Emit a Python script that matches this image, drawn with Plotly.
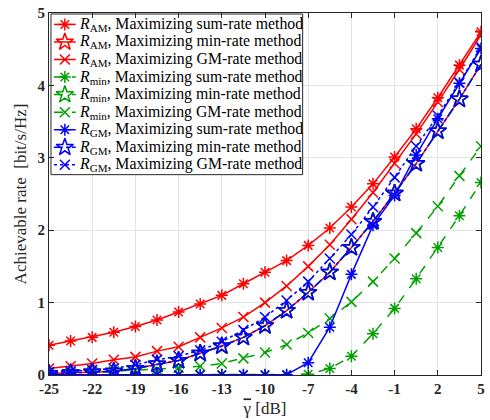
import plotly.graph_objects as go

snr_db = [-25, -23.5, -22, -20.5, -19, -17.5, -16, -14.5, -13, -11.5, -10, -8.5, -7,
          -5.5, -4, -2.5, -1, 0.5, 2, 3.5, 5]

ram_sum = [0.41, 0.47, 0.52, 0.59, 0.67, 0.76, 0.87, 0.98, 1.10, 1.26, 1.42, 1.58, 1.79,
           2.03, 2.32, 2.64, 3.01, 3.40, 3.83, 4.28, 4.74]
ram_gm = [0.09, 0.12, 0.16, 0.21, 0.25, 0.33, 0.39, 0.52, 0.65, 0.80, 1.00, 1.23, 1.50,
          1.80, 2.15, 2.52, 2.92, 3.33, 3.77, 4.22, 4.70]
r_minrate = [0.02, 0.03, 0.04, 0.05, 0.09, 0.15, 0.20, 0.30, 0.40, 0.52, 0.68, 0.89, 1.14,
             1.42, 1.76, 2.12, 2.51, 2.92, 3.37, 3.81, 4.29]
rmin_sum = [0.0, 0.0, 0.0, 0.0, 0.0, 0.0, 0.0, 0.0, 0.0, 0.0, 0.0, 0.0, 0.01,
            0.09, 0.26, 0.57, 0.92, 1.33, 1.76, 2.20, 2.66]
rmin_gm = [0.02, 0.03, 0.04, 0.05, 0.06, 0.08, 0.10, 0.12, 0.16, 0.23, 0.31, 0.42, 0.58,
           0.78, 1.01, 1.29, 1.61, 1.96, 2.33, 2.75, 3.16]
rgm_sum = [0.005, 0.005, 0.005, 0.005, 0.005, 0.005, 0.005, 0.005, 0.005, 0.005, 0.005, 0.005, 0.17,
           0.66, 1.39, 2.07, 2.48, 3.04, 3.54, 4.03, 4.51]
rgm_gm = [0.04, 0.05, 0.07, 0.09, 0.14, 0.21, 0.26, 0.34, 0.46, 0.62, 0.80, 1.03, 1.29,
          1.61, 1.94, 2.32, 2.73, 3.16, 3.58, 4.04, 4.53]

x_ticks = [-25, -22, -19, -16, -13, -10, -7, -4, -1, 2, 5]
y_ticks = [0, 1, 2, 3, 4, 5]

RED = "#ff0000"
GREEN = "#00a000"
BLUE = "#0000ff"

series = [
    ("<i>R</i><sub>AM</sub>, Maximizing sum-rate method", ram_sum, RED, "solid", "asterisk-open"),
    ("<i>R</i><sub>AM</sub>, Maximizing min-rate method", r_minrate, RED, "solid", "star-open"),
    ("<i>R</i><sub>AM</sub>, Maximizing GM-rate method", ram_gm, RED, "solid", "x-thin-open"),
    ("<i>R</i><sub>min</sub>, Maximizing sum-rate method", rmin_sum, GREEN, "dash", "asterisk-open"),
    ("<i>R</i><sub>min</sub>, Maximizing min-rate method", r_minrate, GREEN, "dash", "star-open"),
    ("<i>R</i><sub>min</sub>, Maximizing GM-rate method", rmin_gm, GREEN, "dash", "x-thin-open"),
    ("<i>R</i><sub>GM</sub>, Maximizing sum-rate method", rgm_sum, BLUE, "solid", "asterisk-open"),
    ("<i>R</i><sub>GM</sub>, Maximizing min-rate method", r_minrate, BLUE, "dashdot", "star-open"),
    ("<i>R</i><sub>GM</sub>, Maximizing GM-rate method", rgm_gm, BLUE, "dot", "x-thin-open"),
]

FONT = "Liberation Serif"

def msize(sym):
    return 13 if sym == "star-open" else 10

fig = go.Figure()
for name, ys, col, dash, sym in series:
    fig.add_trace(go.Scatter(
        x=snr_db, y=ys, name=name, mode="lines+markers", showlegend=False,
        line=dict(color=col, width=1.5, dash=dash),
        marker=dict(symbol=sym, size=msize(sym), color=col, line=dict(color=col, width=1.5)),
    ))

# Hand-built legend (MATLAB-style compact box) on an overlay axis in pixel units
L_X0, L_X1, L_Y0, L_Y1 = 51, 305, 11, 173
ROW0, ROW_STEP = 21.5, 17.7
SAMPLE_X = [54, 76]
TEXT_X = 77

fig.add_trace(go.Scatter(
    x=[L_X0, L_X1, L_X1, L_X0, L_X0], y=[L_Y0, L_Y0, L_Y1, L_Y1, L_Y0],
    xaxis="x2", yaxis="y2", mode="lines", fill="toself", fillcolor="white",
    line=dict(color="#262626", width=1), showlegend=False, hoverinfo="skip"))

for i, (name, ys, col, dash, sym) in enumerate(series):
    yy = ROW0 + i * ROW_STEP
    fig.add_trace(go.Scatter(
        x=SAMPLE_X, y=[yy, yy], xaxis="x2", yaxis="y2", mode="lines",
        line=dict(color=col, width=1.5, dash=dash), showlegend=False, hoverinfo="skip"))
    fig.add_trace(go.Scatter(
        x=[sum(SAMPLE_X) / 2], y=[yy], xaxis="x2", yaxis="y2", mode="markers",
        marker=dict(symbol=sym, size=msize(sym), color=col, line=dict(color=col, width=1.5)),
        showlegend=False, hoverinfo="skip"))
    fig.add_annotation(x=TEXT_X, y=yy, xref="x2", yref="y2", text=name, showarrow=False,
                       xanchor="left", yanchor="middle",
                       font=dict(family=FONT, size=15.8, color="#000000"))

fig.update_layout(
    width=490, height=420,
    margin=dict(l=49, r=5, t=10, b=45),
    paper_bgcolor="white", plot_bgcolor="white",
    font=dict(family=FONT, color="#262626"),
    showlegend=False,
    xaxis=dict(
        range=[-25, 5], tickvals=x_ticks, ticktext=[f"<b>{v}</b>" for v in x_ticks],
        tickfont=dict(family=FONT, size=15, color="#262626"),
        showgrid=True, gridcolor="#e3e3e3", gridwidth=1,
        zeroline=False, showline=True, linecolor="#262626", linewidth=1,
        mirror="ticks", ticks="inside", ticklen=5, tickcolor="#262626",
        title=dict(text="<span style='text-decoration:overline'>γ</span> [dB]",
                   font=dict(family=FONT, size=17, color="#262626"), standoff=6),
    ),
    yaxis=dict(
        range=[0, 5], tickvals=y_ticks, ticktext=[f"<b>{v}</b>" for v in y_ticks],
        tickfont=dict(family=FONT, size=15, color="#262626"),
        showgrid=True, gridcolor="#e3e3e3", gridwidth=1,
        zeroline=False, showline=True, linecolor="#262626", linewidth=1,
        mirror="ticks", ticks="inside", ticklen=5, tickcolor="#262626",
        title=dict(text="Achievable rate  [bit/s/Hz]", font=dict(family=FONT, size=17, color="#262626"), standoff=6),
    ),
    xaxis2=dict(overlaying="x", range=[49, 485], visible=False, fixedrange=True),
    yaxis2=dict(overlaying="y", range=[375, 10], visible=False, fixedrange=True),
)

fig.write_html("out.html")
